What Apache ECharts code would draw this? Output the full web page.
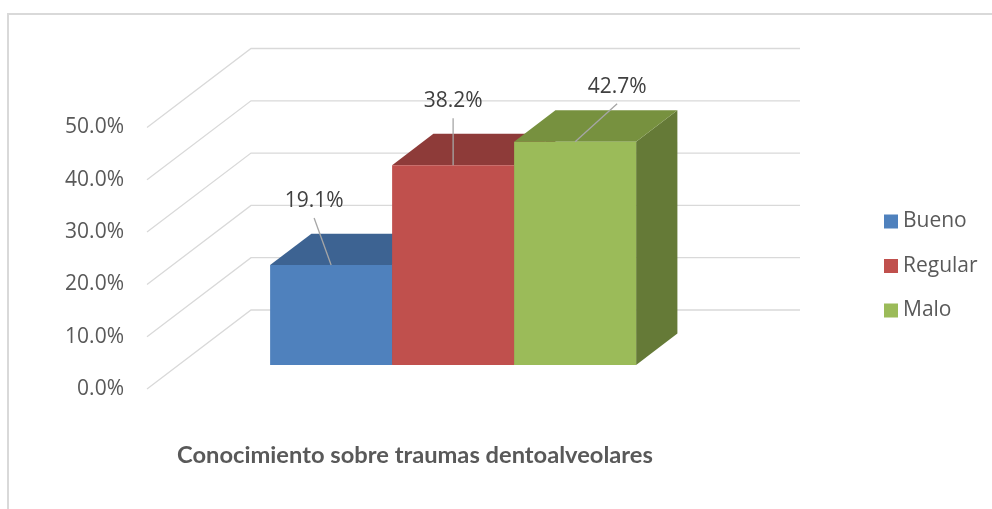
<!DOCTYPE html>
<html>
<head>
<meta charset="utf-8">
<script src="https://cdn.jsdelivr.net/npm/echarts@6/dist/echarts.min.js"></script>
<style>
html,body{margin:0;padding:0;background:#fff;}
#chart{width:992px;height:509px;}
</style>
</head>
<body>
<div id="chart"></div>
<script>
// ---- data ----
var categories = ['Bueno', 'Regular', 'Malo'];
var values = [0.191, 0.382, 0.427];
var valueLabels = ['19.1%', '38.2%', '42.7%'];
var yTicks = [0, 0.1, 0.2, 0.3, 0.4, 0.5];
var chartTitle = 'Conocimiento sobre traumas dentoalveolares';

// ---- styles / layout ----
var FRONT = ['#4F81BD', '#C0504D', '#9BBB59'];
var TOP = ['#3D6392', '#8E3B39', '#77913F'];
var SIDE = ['#34557D', '#7A3331', '#657A37'];
var DEPTH_DX = 104, DEPTH_DY = -79;      // full floor depth in px
var BAR_D0 = 0.304, BAR_D1 = 0.701;      // bar front/back depth fractions
var X_MIN = -2.25, X_MAX = 2.25;
var LABEL_OFFSETS = [[-17, -64], [0, -64], [42, -55]];
var FONT = 'Open Sans';

var chart = echarts.init(document.getElementById('chart'));

function off(p, f) { return [p[0] + DEPTH_DX * f, p[1] + DEPTH_DY * f]; }

var gridSeries = {
  type: 'custom',
  name: 'grid',
  z: 1,
  silent: true,
  data: yTicks.map(function (v) { return [v]; }),
  renderItem: function (params, api) {
    var v = api.value(0);
    var a = api.coord([X_MIN, v]);
    var b = off(a, 1);
    var c = off(api.coord([X_MAX, v]), 1);
    return {
      type: 'polyline',
      shape: { points: [a, b, c] },
      style: { stroke: '#D9D9D9', lineWidth: 1.3, fill: null }
    };
  }
};

var barSeries = categories.map(function (name, i) {
  return {
    type: 'custom',
    name: name,
    z: 2 + i,
    itemStyle: { color: FRONT[i] },
    data: [[i - 1, values[i]]],
    renderItem: function (params, api) {
      var xc = api.value(0), v = api.value(1);
      var bl = off(api.coord([xc - 0.5, 0]), BAR_D0);
      var br = off(api.coord([xc + 0.5, 0]), BAR_D0);
      var tl = off(api.coord([xc - 0.5, v]), BAR_D0);
      var tr = off(api.coord([xc + 0.5, v]), BAR_D0);
      var f = BAR_D1 - BAR_D0;
      var tlb = off(tl, f), trb = off(tr, f), brb = off(br, f);
      var anchor = [(tl[0] + tr[0]) / 2, tl[1]];
      var lo = LABEL_OFFSETS[i];
      var lp = [anchor[0] + lo[0], anchor[1] + lo[1]];
      return {
        type: 'group',
        children: [
          { type: 'polygon', shape: { points: [tr, trb, brb, br] }, style: { fill: SIDE[i] } },
          { type: 'polygon', shape: { points: [tl, tlb, trb, tr] }, style: { fill: TOP[i] } },
          { type: 'polygon', shape: { points: [bl, tl, tr, br] }, style: { fill: FRONT[i] } },
          { type: 'line', shape: { x1: lp[0], y1: lp[1] + 17, x2: anchor[0], y2: anchor[1] }, style: { stroke: '#A6A6A6', lineWidth: 1.3 } },
          { type: 'text', x: lp[0], y: lp[1], style: { text: valueLabels[i], fill: '#404040', font: '21px "' + FONT + '"', align: 'center', verticalAlign: 'middle' } }
        ]
      };
    }
  };
});

chart.setOption({
  animation: false,
  grid: { left: 147, right: 296, top: 127.5, bottom: 120 },
  xAxis: { type: 'value', min: X_MIN, max: X_MAX, show: false },
  yAxis: {
    type: 'value', min: 0, max: 0.5, interval: 0.1,
    axisLine: { show: false }, axisTick: { show: false }, splitLine: { show: false },
    axisLabel: {
      margin: 23, color: '#595959', fontSize: 21, fontFamily: FONT,
      formatter: function (v) { return (v * 100).toFixed(1) + '%'; }
    }
  },
  legend: {
    orient: 'vertical', left: 879, top: 206,
    data: categories, icon: 'rect', itemWidth: 14, itemHeight: 14, itemGap: 23.5,
    textStyle: { color: '#595959', fontSize: 21, fontFamily: FONT, lineHeight: 21 }
  },
  graphic: [
    { type: 'rect', shape: { x: 8, y: 14, width: 1000, height: 520 }, style: { fill: null, stroke: '#D9D9D9', lineWidth: 2 }, z: 0 },
    { type: 'text', x: 415, y: 455, style: { text: chartTitle, fill: '#595959', font: 'bold 23.7px Lato', align: 'center', verticalAlign: 'middle' } }
  ],
  series: [gridSeries].concat(barSeries)
});
</script>
</body>
</html>
